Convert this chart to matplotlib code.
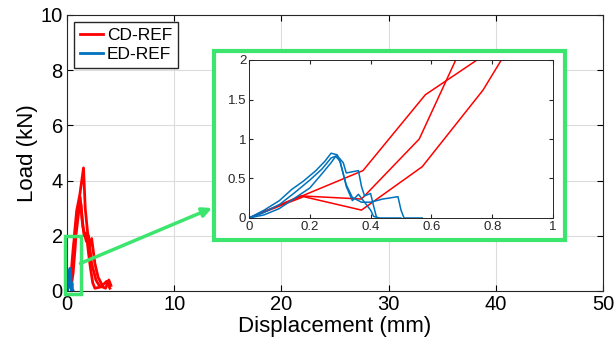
import matplotlib
matplotlib.use('Agg')
import matplotlib.pyplot as plt
from matplotlib.patches import Rectangle

plt.rcParams['font.family'] = ['Liberation Sans', 'DejaVu Sans']

# CD-REF specimens (red)
cd1_x = [0, 0.17, 0.37, 0.56, 0.68, 0.9, 1.2, 1.54, 1.7, 1.9, 2.1, 2.3, 2.6, 2.9, 3.3, 3.7, 4.0]
cd1_y = [0, 0.28, 0.24, 1.0, 2.0, 2.9, 3.5, 4.46, 3.0, 2.2, 1.6, 1.9, 1.0, 0.5, 0.2, 0.35, 0.1]
cd2_x = [0, 0.375, 0.58, 0.75, 1.0, 1.23, 1.4, 1.6, 1.8, 2.0, 2.2, 2.4, 2.6, 3.2]
cd2_y = [0, 0.6, 1.56, 2.0, 2.8, 3.4, 2.6, 2.0, 2.1, 1.4, 0.8, 0.3, 0.1, 0.15]
cd3_x = [0, 0.18, 0.37, 0.57, 0.77, 0.83, 1.1, 1.3, 1.5, 1.8, 2.0, 2.3, 2.7, 3.0, 3.6, 3.9, 4.1]
cd3_y = [0, 0.27, 0.1, 0.65, 1.62, 2.0, 2.9, 3.15, 2.3, 1.8, 2.0, 1.0, 0.4, 0.2, 0.1, 0.4, 0.2]

# ED-REF specimens (blue)
ed1_x = [0, 0.05, 0.1, 0.15, 0.2, 0.24, 0.27, 0.29, 0.31, 0.32, 0.36, 0.37, 0.38, 0.40, 0.41, 0.42]
ed1_y = [0, 0.07, 0.17, 0.32, 0.48, 0.62, 0.76, 0.79, 0.7, 0.57, 0.6, 0.4, 0.28, 0.31, 0.15, 0]
ed2_x = [0, 0.05, 0.1, 0.14, 0.18, 0.22, 0.25, 0.27, 0.29, 0.30, 0.32, 0.34, 0.37, 0.40, 0.44, 0.49, 0.50, 0.51, 0.57]
ed2_y = [0, 0.1, 0.22, 0.36, 0.47, 0.6, 0.72, 0.82, 0.8, 0.7, 0.42, 0.26, 0.2, 0.2, 0.24, 0.27, 0.1, 0, 0]
ed3_x = [0, 0.05, 0.1, 0.15, 0.2, 0.24, 0.27, 0.285, 0.3, 0.32, 0.34, 0.36, 0.38, 0.40, 0.41, 0.43, 0.5]
ed3_y = [0, 0.04, 0.12, 0.25, 0.38, 0.56, 0.7, 0.78, 0.72, 0.4, 0.22, 0.3, 0.2, 0.1, 0.02, 0, 0]

cd_curves = [(cd1_x, cd1_y), (cd2_x, cd2_y), (cd3_x, cd3_y)]
ed_curves = [(ed1_x, ed1_y), (ed2_x, ed2_y), (ed3_x, ed3_y)]

red = '#ff0000'
blue = '#0072bd'
green = '#3ce66e'

fig = plt.figure(figsize=(6.15, 3.52), dpi=100)
ax = fig.add_axes([67/615, 61/352, 536/615, 276/352])

for i, (x, y) in enumerate(cd_curves):
    ax.plot(x, y, color=red, lw=2, label='CD-REF' if i == 0 else None)
for i, (x, y) in enumerate(ed_curves):
    ax.plot(x, y, color=blue, lw=2, label='ED-REF' if i == 0 else None)

ax.set_xlim(0, 50)
ax.set_ylim(0, 10)
ax.set_xticks([0, 10, 20, 30, 40, 50])
ax.set_yticks([0, 2, 4, 6, 8, 10])
ax.grid(True, color='#dcdcdc', lw=0.8)
ax.tick_params(labelsize=14.5, direction='in', length=4, top=True, right=True, pad=3)
for s in ax.spines.values():
    s.set_color('#262626')
ax.set_xlabel('Displacement (mm)', fontsize=16, labelpad=1)
ax.set_ylabel('Load (kN)', fontsize=16, labelpad=2)
leg = ax.legend(loc='upper left', fontsize=12.5, handlelength=1.3, handletextpad=0.25,
                borderpad=0.35, labelspacing=0.2, fancybox=False, framealpha=1,
                borderaxespad=0.4)
leg.get_frame().set_edgecolor('#262626')
leg.get_frame().set_linewidth(1.0)

# small zoom box around origin
ax.add_patch(Rectangle((-0.2, -0.1), 1.5, 2.1, fill=False, ec=green, lw=2.5,
                       clip_on=False, zorder=5))

# arrow to inset
ax.annotate('', xy=(212/615, 1 - 208/352), xycoords='figure fraction',
            xytext=(1.25, 1.0), textcoords='data',
            arrowprops=dict(arrowstyle='-|>', color=green, lw=2.5, mutation_scale=14,
                            shrinkA=0, shrinkB=0), zorder=6)

# inset frame
frame = Rectangle((214/615, 1 - 240/352), 351/615, 189/352, transform=fig.transFigure,
                  fc='white', ec=green, lw=3, zorder=1)
fig.add_artist(frame)

ins = fig.add_axes([249/615, 1 - 218/352, 304/615, 158/352], zorder=2)
for x, y in cd_curves:
    ins.plot(x, y, color=red, lw=1.1)
for x, y in ed_curves:
    ins.plot(x, y, color=blue, lw=1.1)
ins.set_xlim(0, 1)
ins.set_ylim(0, 2)
ins.set_xticks([0, 0.2, 0.4, 0.6, 0.8, 1])
ins.set_xticklabels(['0', '0.2', '0.4', '0.6', '0.8', '1'])
ins.set_yticks([0, 0.5, 1, 1.5, 2])
ins.set_yticklabels(['0', '0.5', '1', '1.5', '2'])
ins.tick_params(labelsize=9.5, direction='in', length=3, top=True, right=True,
                colors='#262626', pad=2)
for s in ins.spines.values():
    s.set_color('#262626')
    s.set_linewidth(0.7)

fig.savefig('out.png', dpi=100)
